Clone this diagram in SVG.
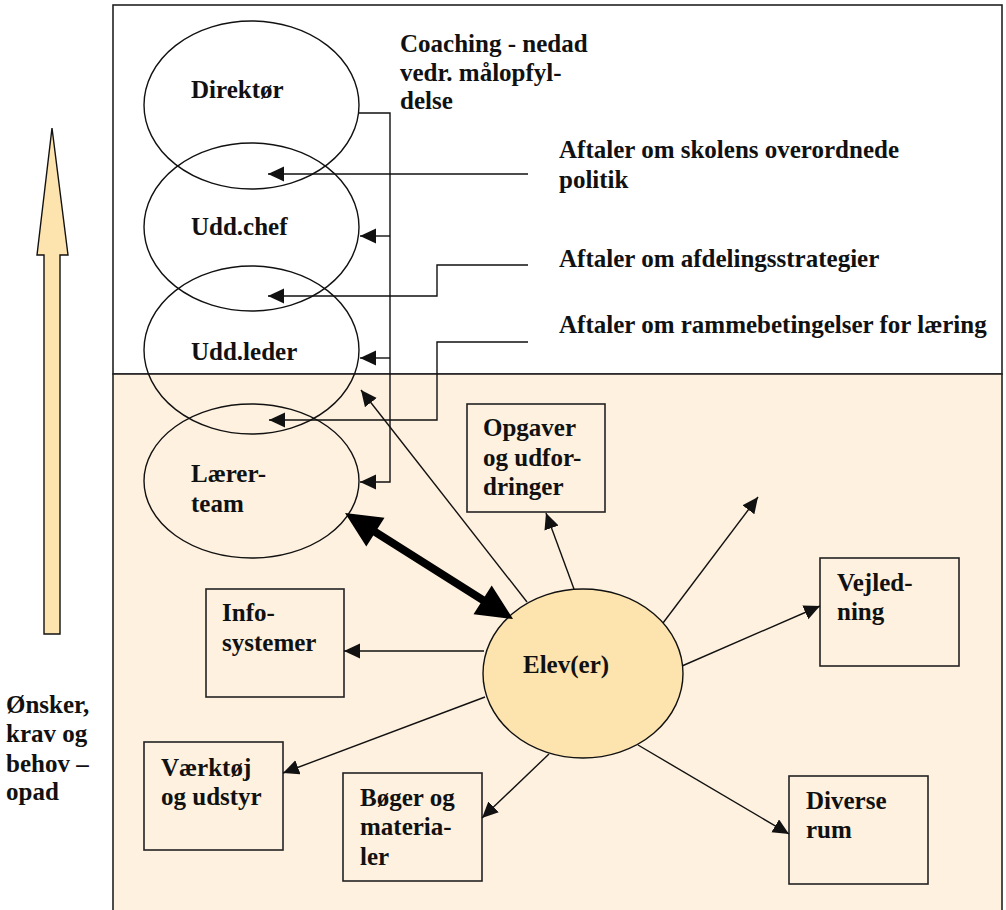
<svg xmlns="http://www.w3.org/2000/svg" width="1006" height="910" viewBox="0 0 1006 910">
<defs>
<style>
.t{font-family:"Liberation Serif","Times New Roman",serif;font-weight:bold;font-size:25px;fill:#111}
.frame{stroke:#222;stroke-width:1.6}
.ell{fill:none;stroke:#111;stroke-width:1.4}
.box{fill:#FEF1DF;stroke:#222;stroke-width:1.6}
.c{fill:none;stroke:#111;stroke-width:1.4}
.ca{fill:none;stroke:#111;stroke-width:1.4;marker-end:url(#ah)}
</style>
<marker id="ah" markerUnits="userSpaceOnUse" markerWidth="17" markerHeight="16" refX="16" refY="7.5" orient="auto" viewBox="0 0 17 16">
<path d="M0,0 L16,7.5 L0,15 z" fill="#111"/>
</marker>
</defs>
<rect width="1006" height="910" fill="#fff"/>
<g id="frame">
<rect x="113" y="5" width="889" height="369" fill="#fff" class="frame"/>
<rect x="113" y="374" width="889" height="545" fill="#FEF1DF" class="frame"/>
</g>
<g id="opad-arrow">
<polygon points="52,128 68,255 60,255 60,634 44,634 44,255 37,255" fill="#FDE3AE" stroke="#111" stroke-width="1.4"/>
<text class="t"><tspan x="6" y="713">Ønsker,</tspan><tspan x="6" y="742">krav og</tspan><tspan x="6" y="772">behov –</tspan><tspan x="6" y="800">opad</tspan></text>
</g>
<g id="direktor">
<ellipse cx="251.5" cy="105" rx="107.5" ry="84" class="ell"/>
<text class="t" x="191" y="98">Direktør</text>
</g>
<g id="uddchef">
<ellipse cx="251.5" cy="227" rx="107.5" ry="84" class="ell"/>
<text class="t" x="191" y="235">Udd.chef</text>
</g>
<g id="uddleder">
<ellipse cx="251.5" cy="350" rx="107.5" ry="84" class="ell"/>
<text class="t" x="191" y="360">Udd.leder</text>
</g>
<g id="laererteam">
<ellipse cx="251.5" cy="481" rx="107.5" ry="77" class="ell"/>
<text class="t"><tspan x="191" y="482">Lærer-</tspan><tspan x="191" y="512">team</tspan></text>
</g>
<g id="labels">
<text class="t"><tspan x="400" y="52">Coaching - nedad</tspan><tspan x="400" y="81">vedr. målopfyl-</tspan><tspan x="400" y="109">delse</tspan></text>
<text class="t"><tspan x="559" y="158">Aftaler om skolens overordnede</tspan><tspan x="559" y="188">politik</tspan></text>
<text class="t" x="559" y="267">Aftaler om afdelingsstrategier</text>
<text class="t" x="559" y="333">Aftaler om rammebetingelser for læring</text>
</g>
<g id="elever">
<ellipse cx="583" cy="673.5" rx="100" ry="84.5" fill="#FDE3AE" stroke="#111" stroke-width="1.4"/>
<text class="t" x="523" y="673">Elev(er)</text>
</g>
<g id="opgaver">
<rect x="467" y="404" width="138" height="108" class="box"/>
<text class="t"><tspan x="483" y="436">Opgaver</tspan><tspan x="483" y="466">og udfor-</tspan><tspan x="483" y="495">dringer</tspan></text>
</g>
<g id="vejledning">
<rect x="820" y="558" width="139" height="108" class="box"/>
<text class="t"><tspan x="837" y="591">Vejled-</tspan><tspan x="837" y="620">ning</tspan></text>
</g>
<g id="infosystemer">
<rect x="206" y="589" width="138" height="108" class="box"/>
<text class="t"><tspan x="222" y="621">Info-</tspan><tspan x="222" y="651">systemer</tspan></text>
</g>
<g id="vaerktoj">
<rect x="144" y="742" width="139" height="108" class="box"/>
<text class="t"><tspan x="161" y="776">Værktøj</tspan><tspan x="161" y="805">og udstyr</tspan></text>
</g>
<g id="boger">
<rect x="343" y="773" width="139" height="108" class="box"/>
<text class="t"><tspan x="360" y="806">Bøger og</tspan><tspan x="360" y="835">materia-</tspan><tspan x="360" y="865">ler</tspan></text>
</g>
<g id="diverse">
<rect x="789" y="776" width="139" height="108" class="box"/>
<text class="t"><tspan x="806" y="809">Diverse</tspan><tspan x="806" y="838">rum</tspan></text>
</g>
<g id="connectors">
<path class="ca" d="M359,113 H390 V482 H360"/>
<path class="ca" d="M390,236 H360"/>
<path class="ca" d="M390,358 H360"/>
<path class="ca" d="M528,174 H268"/>
<path class="ca" d="M528,265 H437 V296 H268"/>
<path class="ca" d="M528,342 H437 V420 H269"/>
<path class="ca" d="M527,602 L361,390"/>
<path class="ca" d="M574,589 L546,513"/>
<path class="ca" d="M663,623 L758,497"/>
<path class="ca" d="M682,666 L820,606"/>
<path class="ca" d="M638,745 L789,834"/>
<path class="ca" d="M549,754 L482,818"/>
<path class="ca" d="M485,697 L283,773"/>
<path class="ca" d="M484,651 L344,651"/>
<polygon points="345,513 384.5,517.8 377.5,528.8 484.7,596.4 491.7,585.4 513,619 473.5,614.2 480.5,603.2 373.3,535.6 366.3,546.6" fill="#000"/>
</g>
</svg>
